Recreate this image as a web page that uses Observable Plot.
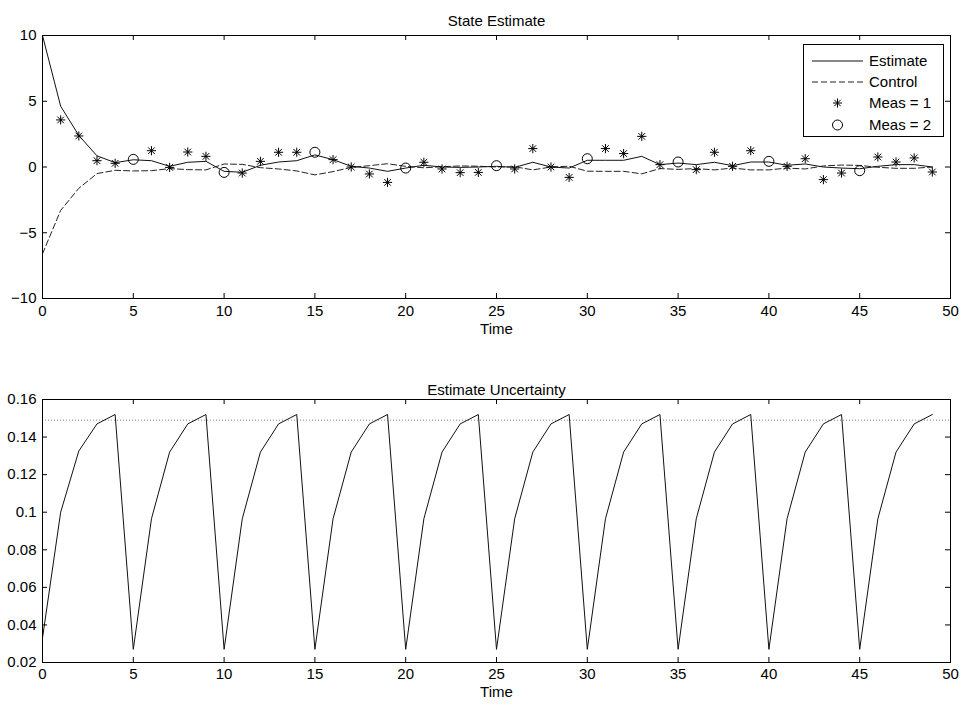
<!DOCTYPE html>
<html><head><meta charset="utf-8">
<script src="https://cdn.jsdelivr.net/npm/d3@7"></script>
<script src="https://cdn.jsdelivr.net/npm/@observablehq/plot@0.6"></script>
<style>
body{margin:0;background:#fff;font-family:"Liberation Sans",Arial,sans-serif;}
#wrap{position:relative;width:967px;height:706px;background:#fff;}
#wrap svg.plot{position:absolute;left:0;}
#legend{position:absolute;left:803px;top:44px;width:139px;height:91px;border:1px solid #000;background:#fff;font-size:15px;}
#legend .row{position:absolute;left:0;height:20px;width:139px;}
#legend .row svg{position:absolute;left:6px;top:0;}
#legend .row span{position:absolute;left:65px;top:1px;line-height:17px;}
</style></head>
<body><div id="wrap"></div>
<script>
// ---- data ----
const time = [0,1,2,3,4,5,6,7,8,9,10,11,12,13,14,15,16,17,18,19,20,21,22,23,24,25,26,27,28,29,30,31,32,33,34,35,36,37,38,39,40,41,42,43,44,45,46,47,48,49];
const estimate = [10,4.62,2.40,0.85,0.33,0.55,0.48,0.05,0.36,0.43,-0.33,-0.40,0.13,0.38,0.48,0.92,0.56,0.05,-0.08,-0.33,-0.08,0.13,0,-0.03,0,0.05,-0.03,0.36,0,-0.08,0.51,0.51,0.51,0.81,0.18,0.30,0.18,0.36,0.10,0.38,0.38,0.13,0.23,0,-0.08,-0.13,0.05,0.18,0.18,0];
const control = [-6.6,-3.3,-1.62,-0.5,-0.25,-0.3,-0.28,-0.12,-0.2,-0.22,0.23,0.2,-0.05,-0.15,-0.3,-0.6,-0.35,-0.03,0.1,0.25,0.05,-0.06,0.02,0.08,0.06,0,0.02,-0.22,0,0.06,-0.32,-0.33,-0.33,-0.52,-0.12,-0.18,-0.12,-0.22,-0.08,-0.22,-0.22,-0.08,-0.15,0.08,0.15,0.12,-0.02,-0.1,-0.1,0];
const meas1Time = [1,2,3,4,6,7,8,9,11,12,13,14,16,17,18,19,21,22,23,24,26,27,28,29,31,32,33,34,36,37,38,39,41,42,43,44,46,47,48,49];
const meas1Value = [3.58,2.36,0.48,0.28,1.24,-0.03,1.14,0.81,-0.46,0.43,1.12,1.12,0.56,0,-0.53,-1.17,0.36,-0.15,-0.43,-0.41,-0.15,1.4,0,-0.79,1.4,1.02,2.33,0.18,-0.2,1.12,0.05,1.24,0.05,0.63,-0.96,-0.46,0.76,0.38,0.69,-0.38];
const meas2Time = [5,10,15,20,25,30,35,40,45];
const meas2Value = [0.58,-0.41,1.12,-0.08,0.1,0.63,0.38,0.43,-0.28];
const uncertainty = [0.033,0.100,0.1326,0.147,0.152,
  0.027,0.0965,0.132,0.147,0.152, 0.027,0.0965,0.132,0.147,0.152,
  0.027,0.0965,0.132,0.147,0.152, 0.027,0.0965,0.132,0.147,0.152,
  0.027,0.0965,0.132,0.147,0.152, 0.027,0.0965,0.132,0.147,0.152,
  0.027,0.0965,0.132,0.147,0.152, 0.027,0.0965,0.132,0.147,0.152,
  0.027,0.0965,0.132,0.147,0.152];
const steadyLevel = [0.149];
const xTicks = [0,5,10,15,20,25,30,35,40,45,50];
const y1Ticks = [-10,-5,0,5,10];
const y2Ticks = [0.02,0.04,0.06,0.08,0.10,0.12,0.14,0.16];
const titles = ["State Estimate","Estimate Uncertainty"];
const xLabel = "Time";
const legendLabels = ["Estimate","Control","Meas = 1","Meas = 2"];

// ---- tables ----
const est = time.map((t,i)=>({t, v:estimate[i], c:control[i], u:uncertainty[i]}));
const m1 = meas1Time.map((t,i)=>({t, v:meas1Value[i]}));
const m2 = meas2Time.map((t,i)=>({t, v:meas2Value[i]}));

const asterisk = {draw(ctx,size){const r=Math.sqrt(size/Math.PI), d=r*0.72;
  ctx.moveTo(-r,0);ctx.lineTo(r,0);ctx.moveTo(0,-r);ctx.lineTo(0,r);
  ctx.moveTo(-d,-d);ctx.lineTo(d,d);ctx.moveTo(-d,d);ctx.lineTo(d,-d);}};

const font = {fontSize:"15px", fontFamily:"'Liberation Sans', Arial, sans-serif", color:"#000", background:"transparent", overflow:"visible"};
const W = 967, mL = 42, mR = 17;

function frameTicks(yt, ph, pw){
  return [
    Plot.tickX(xTicks,{x:d=>d, insetTop:ph-5, stroke:"#000", strokeWidth:1}),
    Plot.tickX(xTicks,{x:d=>d, insetBottom:ph-5, stroke:"#000", strokeWidth:1}),
    Plot.tickY(yt,{y:d=>d, insetRight:pw-5, stroke:"#000", strokeWidth:1}),
    Plot.tickY(yt,{y:d=>d, insetLeft:pw-5, stroke:"#000", strokeWidth:1}),
    Plot.frame({stroke:"#000", strokeWidth:1})
  ];
}

const h1 = 350, mT1 = 35, mB1 = 52;
const p1 = Plot.plot({
  width:W, height:h1, marginLeft:mL, marginRight:mR, marginTop:mT1, marginBottom:mB1,
  style:font,
  x:{domain:[0,50], ticks:xTicks, tickSize:0, tickPadding:7, label:null},
  y:{domain:[-10,10], ticks:y1Ticks, tickSize:0, tickPadding:6, label:null},
  marks:[
    Plot.line(est,{x:"t", y:"c", stroke:"#222", strokeWidth:1, strokeDasharray:"6,3"}),
    Plot.line(est,{x:"t", y:"v", stroke:"#111", strokeWidth:1}),
    Plot.dot(m1,{x:"t", y:"v", symbol:asterisk, r:4.6, stroke:"#000", fill:"none", strokeWidth:1}),
    Plot.dot(m2,{x:"t", y:"v", symbol:"circle", r:5, stroke:"#000", fill:"none", strokeWidth:1}),
    ...frameTicks(y1Ticks, h1-mT1-mB1, W-mL-mR),
    Plot.text([titles[0]],{frameAnchor:"top", dy:-20, fontSize:15}),
    Plot.text([xLabel],{frameAnchor:"bottom", dy:35, fontSize:15})
  ]
});
p1.classList.add("plot");
p1.style.top = "0px";

const h2 = 356, mT2 = 49, mB2 = 44;
const p2 = Plot.plot({
  width:W, height:h2, marginLeft:mL, marginRight:mR, marginTop:mT2, marginBottom:mB2,
  style:font,
  x:{domain:[0,50], ticks:xTicks, tickSize:0, tickPadding:6, label:null},
  y:{domain:[0.02,0.16], ticks:y2Ticks, tickSize:0, tickPadding:6, label:null, tickFormat:d=>String(+d.toFixed(2))},
  marks:[
    Plot.ruleY(steadyLevel,{y:d=>d, stroke:"#888", strokeWidth:1, strokeDasharray:"1,2"}),
    Plot.line(est,{x:"t", y:"u", stroke:"#111", strokeWidth:1}),
    ...frameTicks(y2Ticks, h2-mT2-mB2, W-mL-mR),
    Plot.text([titles[1]],{frameAnchor:"top", dy:-15, fontSize:15}),
    Plot.text([xLabel],{frameAnchor:"bottom", dy:34, fontSize:15})
  ]
});
p2.classList.add("plot");
p2.style.top = h1+"px";

const wrap = document.getElementById("wrap");
wrap.appendChild(p1);
wrap.appendChild(p2);

// legend
const lg = document.createElement("div");
lg.id = "legend";
const rowTops = [6,27,48,70];
legendLabels.forEach((lab,i)=>{
  const row = document.createElement("div");
  row.className = "row"; row.style.top = rowTops[i]+"px";
  let sym = "";
  if(i===0) sym = '<line x1="2" y1="10" x2="53" y2="10" stroke="#111" stroke-width="1"/>';
  if(i===1) sym = '<line x1="2" y1="10" x2="53" y2="10" stroke="#222" stroke-width="1" stroke-dasharray="6,3"/>';
  if(i===2) sym = '<g stroke="#000" stroke-width="1"><line x1="23" y1="10" x2="32" y2="10"/><line x1="27.5" y1="5.5" x2="27.5" y2="14.5"/><line x1="24.3" y1="6.8" x2="30.7" y2="13.2"/><line x1="24.3" y1="13.2" x2="30.7" y2="6.8"/></g>';
  if(i===3) sym = '<circle cx="27.5" cy="10" r="5" fill="none" stroke="#000" stroke-width="1"/>';
  row.innerHTML = '<svg width="56" height="20">'+sym+'</svg><span>'+lab+'</span>';
  lg.appendChild(row);
});
wrap.appendChild(lg);
</script></body></html>
